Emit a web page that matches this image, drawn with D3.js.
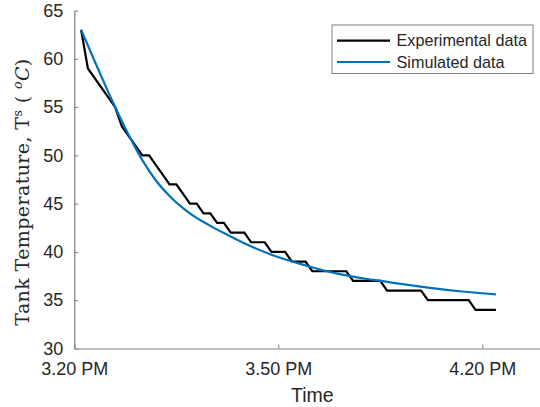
<!DOCTYPE html>
<html>
<head>
<meta charset="utf-8">
<script src="https://cdn.jsdelivr.net/npm/d3@7"></script>
<style>
  html, body { margin: 0; padding: 0; background: #fff; }
  svg { display: block; }
</style>
</head>
<body>
<svg id="chart" width="540" height="407"></svg>
<script>
// minutes after 3.20 PM
const expTime = [1,2,3,4,5,6,7,8,9,10,11,12,13,14,15,16,17,18,19,20,21,22,23,24,25,26,27,28,29,30,31,32,33,34,35,36,37,38,39,40,41,42,43,44,45,46,47,48,49,50,51,52,53,54,55,56,57,58,59,60,61,62];
const expTemp = [63,59,58,57,56,55,53,52,51,50,50,49,48,47,47,46,45,45,44,44,43,43,42,42,42,41,41,41,40,40,40,39,39,39,38,38,38,38,38,38,37,37,37,37,37,36,36,36,36,36,36,35,35,35,35,35,35,35,34,34,34,34];
const simTime = [1,3,5,6,8,10,12,14,17,20,23,25,29,34,39,44,48,52,57,62];
const simTemp = [63,59.75,56.55,55,52.1,49.5,47.4,45.8,44.0,42.7,41.6,40.9,39.7,38.6,37.7,37.1,36.7,36.3,35.9,35.6];
const xTicks = [0,30,60];
const xTickLabels = ["3.20 PM","3.50 PM","4.20 PM"];
const yTicks = [30,35,40,45,50,55,60,65];
const seriesNames = ["Experimental data","Simulated data"];
const seriesColors = ["#000000","#0072BD"];

const svg = d3.select("#chart");
const x = d3.scaleLinear().domain([0,70]).range([74.3, 550.3]);
const y = d3.scaleLinear().domain([30,65]).range([348.5, 10.5]);

const axisColor = "#808080";
const textColor = "#262626";

const xAxis = svg.append("g")
  .attr("transform", `translate(0,${y(30)})`)
  .call(d3.axisBottom(x).tickValues(xTicks).tickFormat((d,i)=>xTickLabels[i]).tickSize(-4).tickSizeOuter(0).tickPadding(14));
const yAxis = svg.append("g")
  .attr("transform", `translate(${x(0)},0)`)
  .call(d3.axisLeft(y).tickValues(yTicks).tickSize(-4).tickSizeOuter(0).tickPadding(11));

[xAxis, yAxis].forEach(g => {
  g.select(".domain").attr("stroke", axisColor).attr("stroke-width", 1.2);
  g.selectAll(".tick line").attr("stroke", axisColor).attr("stroke-width", 1);
  g.selectAll(".tick text").attr("fill", textColor)
    .style("font-family", "Arial, 'Liberation Sans', sans-serif").style("font-size", "18px");
});

// x label
svg.append("text")
  .attr("x", x(35) ).attr("y", 402)
  .attr("text-anchor", "middle")
  .attr("fill", textColor)
  .style("font-family", "Arial, 'Liberation Sans', sans-serif").style("font-size", "19.5px")
  .text("Time");

// y label
const yl = svg.append("text")
  .attr("transform", "translate(28.5,192) rotate(-90)")
  .attr("text-anchor", "middle")
  .attr("fill", textColor)
  .style("font-family", "'DejaVu Serif', serif").style("font-size", "19px")
  .style("letter-spacing", "0.4px");
yl.append("tspan").text("Tank Temperature, T");
yl.append("tspan").attr("baseline-shift", "super").style("font-size", "12.5px").text("s");
yl.append("tspan").text(" ( ");
yl.append("tspan").attr("baseline-shift", "super").style("font-size", "12.5px").style("font-style", "italic").text("o");
yl.append("tspan").style("font-style", "italic").text("C");
yl.append("tspan").text(")");

const line = d3.line().x(d => x(d[0])).y(d => y(d[1]));
const expData = expTime.map((t,i)=>[t, expTemp[i]]);
const simData = simTime.map((t,i)=>[t, simTemp[i]]);

svg.append("path").datum(expData)
  .attr("fill","none").attr("stroke", seriesColors[0]).attr("stroke-width", 2.2)
  .attr("stroke-linejoin","miter")
  .attr("d", line);
svg.append("path").datum(simData)
  .attr("fill","none").attr("stroke", seriesColors[1]).attr("stroke-width", 2.2)
  .attr("d", line.curve(d3.curveMonotoneX));

// legend
const lg = svg.append("g");
lg.append("rect").attr("x", 332).attr("y", 25).attr("width", 201).attr("height", 48.5)
  .attr("fill", "#fff").attr("stroke", axisColor).attr("stroke-width", 1);
seriesNames.forEach((name, i) => {
  const cy = 40.7 + i * 21.3;
  lg.append("line").attr("x1", 337).attr("x2", 390).attr("y1", cy).attr("y2", cy)
    .attr("stroke", seriesColors[i]).attr("stroke-width", 2.2);
  lg.append("text").attr("x", 396.5).attr("y", cy).attr("dy", "0.35em")
    .attr("fill", textColor)
    .style("font-family", "Arial, 'Liberation Sans', sans-serif").style("font-size", "16.2px")
    .text(name);
});
</script>
</body>
</html>
